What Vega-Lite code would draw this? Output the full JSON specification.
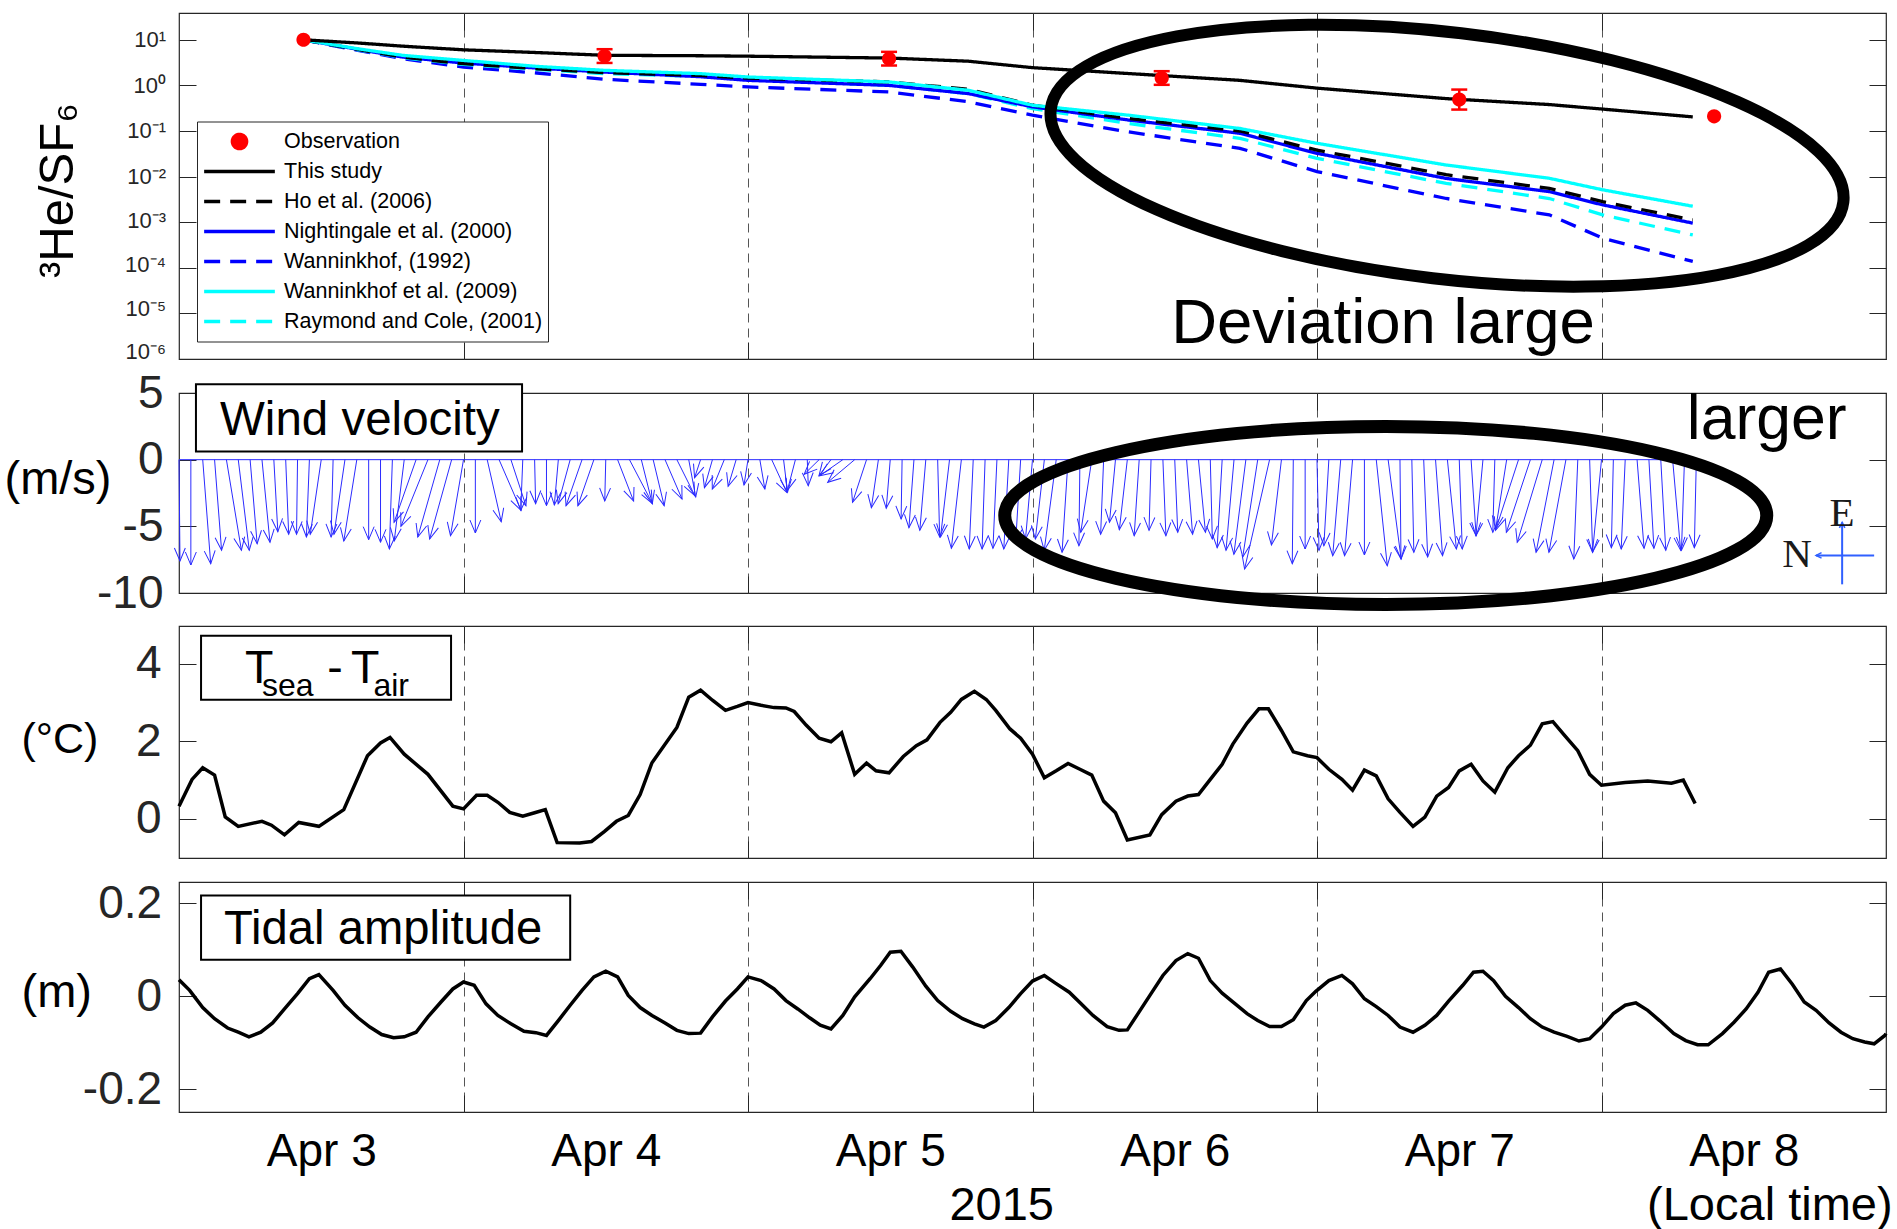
{
"$schema":"https://vega.github.io/schema/vega-lite/v6.json",
"background":"white",
"padding":{"left":3,"top":0,"right":4,"bottom":0},
"spacing":0,
"bounds":"flush",
"config":{
 "font":"Liberation Sans",
 "view":{"stroke":"#262626","strokeWidth":1.2},
 "axis":{"labelFont":"Liberation Sans","titleFont":"Liberation Sans","domain":false,"grid":false,"tickColor":"#262626","labelColor":"#262626","titleColor":"#000000","titleFontWeight":"normal","labelFlush":false,"labelOverlap":false,"tickWidth":1}
},
"datasets":{
 "models":[
  {"m":"Wanninkhof, (1992)","h":10.5,"v":10},{"m":"Wanninkhof, (1992)","h":15.1,"v":5.85},{"m":"Wanninkhof, (1992)","h":18.9,"v":3.85},{"m":"Wanninkhof, (1992)","h":24,"v":2.53},{"m":"Wanninkhof, (1992)","h":30.2,"v":1.87},{"m":"Wanninkhof, (1992)","h":35.9,"v":1.36},{"m":"Wanninkhof, (1992)","h":44,"v":1.057},{"m":"Wanninkhof, (1992)","h":48,"v":0.925},{"m":"Wanninkhof, (1992)","h":59.9,"v":0.719},{"m":"Wanninkhof, (1992)","h":66.6,"v":0.437},{"m":"Wanninkhof, (1992)","h":72,"v":0.222},{"m":"Wanninkhof, (1992)","h":80.1,"v":0.0955},{"m":"Wanninkhof, (1992)","h":89.5,"v":0.0417},{"m":"Wanninkhof, (1992)","h":96,"v":0.0129},{"m":"Wanninkhof, (1992)","h":106.9,"v":0.00331},{"m":"Wanninkhof, (1992)","h":115.6,"v":0.00145},{"m":"Wanninkhof, (1992)","h":120.1,"v":0.000447},{"m":"Wanninkhof, (1992)","h":127.7,"v":0.000138},
  {"m":"Raymond and Cole, (2001)","h":10.5,"v":10},{"m":"Raymond and Cole, (2001)","h":15.1,"v":6.03},{"m":"Raymond and Cole, (2001)","h":18.9,"v":4.05},{"m":"Raymond and Cole, (2001)","h":24,"v":2.88},{"m":"Raymond and Cole, (2001)","h":30.2,"v":2.24},{"m":"Raymond and Cole, (2001)","h":35.9,"v":1.81},{"m":"Raymond and Cole, (2001)","h":44,"v":1.585},{"m":"Raymond and Cole, (2001)","h":48,"v":1.36},{"m":"Raymond and Cole, (2001)","h":59.9,"v":1.0},{"m":"Raymond and Cole, (2001)","h":66.6,"v":0.661},{"m":"Raymond and Cole, (2001)","h":72,"v":0.309},{"m":"Raymond and Cole, (2001)","h":80.1,"v":0.146},{"m":"Raymond and Cole, (2001)","h":89.5,"v":0.0692},{"m":"Raymond and Cole, (2001)","h":96,"v":0.0251},{"m":"Raymond and Cole, (2001)","h":106.9,"v":0.00708},{"m":"Raymond and Cole, (2001)","h":115.6,"v":0.00331},{"m":"Raymond and Cole, (2001)","h":120.1,"v":0.00145},{"m":"Raymond and Cole, (2001)","h":127.7,"v":0.000525},
  {"m":"Nightingale et al. (2000)","h":10.5,"v":10},{"m":"Nightingale et al. (2000)","h":15.1,"v":6.17},{"m":"Nightingale et al. (2000)","h":18.9,"v":4.17},{"m":"Nightingale et al. (2000)","h":24,"v":3.09},{"m":"Nightingale et al. (2000)","h":30.2,"v":2.40},{"m":"Nightingale et al. (2000)","h":35.9,"v":1.96},{"m":"Nightingale et al. (2000)","h":44,"v":1.55},{"m":"Nightingale et al. (2000)","h":48,"v":1.29},{"m":"Nightingale et al. (2000)","h":59.9,"v":1.0},{"m":"Nightingale et al. (2000)","h":66.6,"v":0.661},{"m":"Nightingale et al. (2000)","h":72,"v":0.339},{"m":"Nightingale et al. (2000)","h":80.1,"v":0.174},{"m":"Nightingale et al. (2000)","h":89.5,"v":0.0891},{"m":"Nightingale et al. (2000)","h":96,"v":0.0324},{"m":"Nightingale et al. (2000)","h":106.9,"v":0.00912},{"m":"Nightingale et al. (2000)","h":115.6,"v":0.00468},{"m":"Nightingale et al. (2000)","h":120.1,"v":0.0024},{"m":"Nightingale et al. (2000)","h":127.7,"v":0.000955},
  {"m":"Ho et al. (2006)","h":10.5,"v":10},{"m":"Ho et al. (2006)","h":15.1,"v":6.17},{"m":"Ho et al. (2006)","h":18.9,"v":4.17},{"m":"Ho et al. (2006)","h":24,"v":2.99},{"m":"Ho et al. (2006)","h":30.2,"v":2.32},{"m":"Ho et al. (2006)","h":35.9,"v":1.90},{"m":"Ho et al. (2006)","h":44,"v":1.66},{"m":"Ho et al. (2006)","h":48,"v":1.445},{"m":"Ho et al. (2006)","h":59.9,"v":1.19},{"m":"Ho et al. (2006)","h":66.6,"v":0.822},{"m":"Ho et al. (2006)","h":72,"v":0.367},{"m":"Ho et al. (2006)","h":80.1,"v":0.188},{"m":"Ho et al. (2006)","h":89.5,"v":0.1},{"m":"Ho et al. (2006)","h":96,"v":0.038},{"m":"Ho et al. (2006)","h":106.9,"v":0.011},{"m":"Ho et al. (2006)","h":115.6,"v":0.0055},{"m":"Ho et al. (2006)","h":120.1,"v":0.00282},{"m":"Ho et al. (2006)","h":127.7,"v":0.00112},
  {"m":"Wanninkhof et al. (2009)","h":10.5,"v":10},{"m":"Wanninkhof et al. (2009)","h":15.1,"v":6.35},{"m":"Wanninkhof et al. (2009)","h":18.9,"v":4.55},{"m":"Wanninkhof et al. (2009)","h":24,"v":3.53},{"m":"Wanninkhof et al. (2009)","h":30.2,"v":2.61},{"m":"Wanninkhof et al. (2009)","h":35.9,"v":2.14},{"m":"Wanninkhof et al. (2009)","h":44,"v":1.81},{"m":"Wanninkhof et al. (2009)","h":48,"v":1.53},{"m":"Wanninkhof et al. (2009)","h":59.9,"v":1.19},{"m":"Wanninkhof et al. (2009)","h":66.6,"v":0.782},{"m":"Wanninkhof et al. (2009)","h":72,"v":0.367},{"m":"Wanninkhof et al. (2009)","h":80.1,"v":0.222},{"m":"Wanninkhof et al. (2009)","h":89.5,"v":0.1135},{"m":"Wanninkhof et al. (2009)","h":96,"v":0.0537},{"m":"Wanninkhof et al. (2009)","h":106.9,"v":0.01795},{"m":"Wanninkhof et al. (2009)","h":115.6,"v":0.00918},{"m":"Wanninkhof et al. (2009)","h":120.1,"v":0.00513},{"m":"Wanninkhof et al. (2009)","h":127.7,"v":0.00224},
  {"m":"This study","h":10.5,"v":10},{"m":"This study","h":15.1,"v":8.51},{"m":"This study","h":18.9,"v":7.24},{"m":"This study","h":24,"v":6.03},{"m":"This study","h":30.2,"v":5.25},{"m":"This study","h":35.9,"v":4.57},{"m":"This study","h":44,"v":4.47},{"m":"This study","h":48,"v":4.37},{"m":"This study","h":59.9,"v":3.98},{"m":"This study","h":66.6,"v":3.39},{"m":"This study","h":72,"v":2.45},{"m":"This study","h":80.1,"v":1.82},{"m":"This study","h":89.5,"v":1.29},{"m":"This study","h":96,"v":0.871},{"m":"This study","h":106.9,"v":0.513},{"m":"This study","h":115.6,"v":0.38},{"m":"This study","h":120.1,"v":0.302},{"m":"This study","h":127.7,"v":0.204}
 ],
 "obs":[{"m":"Observation","h":10.5,"v":10},{"m":"Observation","h":35.9,"v":4.4},{"m":"Observation","h":59.9,"v":3.85},{"m":"Observation","h":82.9,"v":1.45},{"m":"Observation","h":108.0,"v":0.49},{"m":"Observation","h":129.5,"v":0.21}],
 "err":[{"h":35.9,"lo":3.11,"hi":6.22},{"h":59.9,"lo":2.73,"hi":5.44},{"h":82.9,"lo":1.03,"hi":2.05},{"h":108.0,"lo":0.295,"hi":0.81}],
 "wind":[
  {"h":0,"h2":0.084,"v":-7.6,"a":-0.6},{"h":1,"h2":1,"v":-7.9,"a":0},{"h":2,"h2":2.675,"v":-7.8,"a":-4.4},{"h":3,"h2":3.591,"v":-6.8,"a":-4.4},{"h":4,"h2":5.265,"v":-6.8,"a":-9.4},{"h":5,"h2":5.928,"v":-6.8,"a":-6.9},{"h":6,"h2":6.591,"v":-6.3,"a":-4.8},{"h":7,"h2":7.675,"v":-6.2,"a":-5.5},{"h":8,"h2":8.337,"v":-5.4,"a":-3.2},{"h":9,"h2":9.253,"v":-5.6,"a":-2.3},
  {"h":10,"h2":9.916,"v":-5.6,"a":0.8},{"h":11,"h2":10.747,"v":-5.8,"a":2.2},{"h":12,"h2":11.072,"v":-5.6,"a":8.4},{"h":13,"h2":12.831,"v":-5.8,"a":1.5},{"h":14,"h2":13.072,"v":-5.6,"a":8.4},{"h":15,"h2":13.903,"v":-6.1,"a":9.1},{"h":16,"h2":16,"v":-6.0,"a":0},{"h":17,"h2":17,"v":-6.2,"a":0},{"h":18,"h2":17.747,"v":-6.7,"a":1.9},{"h":19,"h2":18.156,"v":-6.1,"a":7.0},
  {"h":20,"h2":18.144,"v":-4.7,"a":19.3},{"h":21,"h2":18.722,"v":-5.0,"a":22.0},{"h":22,"h2":20.144,"v":-5.8,"a":15.9},{"h":23,"h2":21.144,"v":-5.95,"a":15.5},{"h":24,"h2":22.903,"v":-5.7,"a":9.7},{"h":25,"h2":25,"v":-5.5,"a":0},{"h":26,"h2":27.181,"v":-4.65,"a":-12.7},{"h":27,"h2":28.856,"v":-3.8,"a":-23.5},{"h":28,"h2":29.265,"v":-3.45,"a":-18.1},{"h":29,"h2":28.831,"v":-3.8,"a":2.3},
  {"h":30,"h2":30.084,"v":-3.3,"a":-1.3},{"h":31,"h2":31,"v":-3.45,"a":0},{"h":32,"h2":31.663,"v":-3.4,"a":5.0},{"h":33,"h2":31.988,"v":-3.3,"a":15.3},{"h":34,"h2":32.65,"v":-3.45,"a":19.2},{"h":35,"h2":33.65,"v":-3.45,"a":19.2},{"h":36,"h2":35.916,"v":-3.1,"a":1.4},{"h":37,"h2":38.35,"v":-3.1,"a":-21.2},{"h":38,"h2":39.94,"v":-3.3,"a":-27.6},{"h":39,"h2":39.928,"v":-3.3,"a":-14.0},
  {"h":40,"h2":40.928,"v":-3.45,"a":-13.4},{"h":41,"h2":42.434,"v":-2.95,"a":-23.4},{"h":42,"h2":43.518,"v":-2.7,"a":-26.6},{"h":43,"h2":43.59,"v":-2.8,"a":-10.6},{"h":44,"h2":43.494,"v":-1.35,"a":18.4},{"h":45,"h2":44.325,"v":-2.1,"a":15.9},{"h":46,"h2":44.988,"v":-2.2,"a":22.3},{"h":47,"h2":46.325,"v":-2.0,"a":16.7},{"h":48,"h2":47.663,"v":-1.9,"a":9.0},{"h":49,"h2":49.422,"v":-2.2,"a":-9.7},
  {"h":50,"h2":51.265,"v":-2.45,"a":-24.6},{"h":51,"h2":51.337,"v":-2.45,"a":-7.0},{"h":52,"h2":51.325,"v":-2.3,"a":14.6},{"h":53,"h2":53.084,"v":-1.95,"a":-2.2},{"h":54,"h2":52.735,"v":-1.1,"a":45.6},{"h":55,"h2":53.988,"v":-1.2,"a":36.9},{"h":56,"h2":54.06,"v":-1.2,"a":55.2},{"h":57,"h2":54.722,"v":-1.7,"a":50.0},{"h":58,"h2":56.819,"v":-3.2,"a":18.2},{"h":59,"h2":58.409,"v":-3.6,"a":8.3},
  {"h":60,"h2":59.663,"v":-3.65,"a":4.7},{"h":61,"h2":60.916,"v":-4.45,"a":1.0},{"h":62,"h2":61.578,"v":-5.1,"a":4.2},{"h":63,"h2":62.494,"v":-5.3,"a":4.9},{"h":64,"h2":64.169,"v":-5.8,"a":-1.5},{"h":65,"h2":64.241,"v":-5.8,"a":6.6},{"h":66,"h2":65.156,"v":-6.65,"a":6.4},{"h":67,"h2":66.663,"v":-6.7,"a":2.6},{"h":68,"h2":67.747,"v":-6.7,"a":1.9},{"h":69,"h2":68.663,"v":-6.65,"a":2.6},
  {"h":70,"h2":69.578,"v":-6.7,"a":3.2},{"h":71,"h2":70.578,"v":-6.2,"a":3.5},{"h":72,"h2":71.409,"v":-5.95,"a":5.0},{"h":73,"h2":72.241,"v":-5.95,"a":6.5},{"h":74,"h2":72.988,"v":-6.8,"a":7.5},{"h":75,"h2":74.494,"v":-6.95,"a":3.7},{"h":76,"h2":75.916,"v":-6.45,"a":0.7},{"h":77,"h2":76.072,"v":-5.45,"a":8.6},{"h":78,"h2":77.747,"v":-5.6,"a":2.3},{"h":79,"h2":78.494,"v":-4.7,"a":5.5},
  {"h":80,"h2":79.325,"v":-5.25,"a":6.5},{"h":81,"h2":80.578,"v":-5.7,"a":3.8},{"h":82,"h2":81.831,"v":-5.3,"a":1.6},{"h":83,"h2":83.253,"v":-5.7,"a":-2.3},{"h":84,"h2":84.253,"v":-5.45,"a":-2.4},{"h":85,"h2":85.506,"v":-5.6,"a":-4.6},{"h":86,"h2":86.591,"v":-5.45,"a":-5.5},{"h":87,"h2":87.169,"v":-5.95,"a":-1.4},{"h":88,"h2":87.578,"v":-6.6,"a":3.3},{"h":89,"h2":88.325,"v":-6.8,"a":5.0},
  {"h":90,"h2":88.988,"v":-7.1,"a":7.2},{"h":91,"h2":89.735,"v":-7.3,"a":8.8},{"h":92,"h2":89.891,"v":-8.2,"a":12.9},{"h":93,"h2":92.156,"v":-6.4,"a":6.7},{"h":94,"h2":93.916,"v":-7.8,"a":0.6},{"h":95,"h2":95,"v":-6.7,"a":0},{"h":96,"h2":96.169,"v":-6.8,"a":-1.3},{"h":97,"h2":96.578,"v":-6.45,"a":3.3},{"h":98,"h2":97.325,"v":-7.2,"a":4.8},{"h":99,"h2":98.325,"v":-7.2,"a":4.8},
  {"h":100,"h2":100,"v":-7.15,"a":0},{"h":101,"h2":101.928,"v":-7.95,"a":-5.9},{"h":102,"h2":103.097,"v":-7.45,"a":-7.5},{"h":103,"h2":103.084,"v":-7.45,"a":-0.6},{"h":104,"h2":104.169,"v":-6.95,"a":-1.2},{"h":105,"h2":105.337,"v":-7.3,"a":-2.4},{"h":106,"h2":106.591,"v":-7.2,"a":-4.2},{"h":107,"h2":107.759,"v":-6.7,"a":-5.8},{"h":108,"h2":108.253,"v":-6.7,"a":-1.9},{"h":109,"h2":109.422,"v":-5.7,"a":-3.8},
  {"h":110,"h2":109.409,"v":-5.7,"a":5.3},{"h":111,"h2":110.831,"v":-5.45,"a":1.6},{"h":112,"h2":111.072,"v":-5.2,"a":9.0},{"h":113,"h2":111.06,"v":-5.3,"a":18.0},{"h":114,"h2":111.975,"v":-5.45,"a":18.3},{"h":115,"h2":112.891,"v":-6.2,"a":16.8},{"h":116,"h2":114.482,"v":-6.95,"a":11.0},{"h":117,"h2":115.566,"v":-6.95,"a":10.4},{"h":118,"h2":117.663,"v":-7.45,"a":2.3},{"h":119,"h2":119.253,"v":-6.95,"a":-1.9},
  {"h":120,"h2":119.241,"v":-6.95,"a":5.5},{"h":121,"h2":120.831,"v":-6.6,"a":1.3},{"h":122,"h2":121.663,"v":-6.7,"a":2.6},{"h":123,"h2":123.591,"v":-6.65,"a":-4.5},{"h":124,"h2":124.422,"v":-6.65,"a":-3.2},{"h":125,"h2":125.422,"v":-6.8,"a":-3.2},{"h":126,"h2":126.675,"v":-6.8,"a":-5.0},{"h":127,"h2":126.747,"v":-6.8,"a":1.9},{"h":128,"h2":127.831,"v":-6.6,"a":1.3}
 ],
 "tsea":[
  {"h":0,"v":0.33},{"h":1.1,"v":1.02},{"h":2.0,"v":1.32},{"h":3.0,"v":1.13},{"h":3.9,"v":0.05},{"h":5.0,"v":-0.19},{"h":7.0,"v":-0.06},{"h":7.8,"v":-0.16},{"h":8.9,"v":-0.41},{"h":10.1,"v":-0.09},{"h":11.8,"v":-0.19},{"h":13.9,"v":0.24},{"h":15.9,"v":1.63},{"h":17.0,"v":1.96},{"h":17.8,"v":2.1},{"h":19.0,"v":1.67},{"h":21.0,"v":1.15},{"h":23.1,"v":0.33},{"h":24.0,"v":0.26},{"h":25.1,"v":0.61},{"h":26.0,"v":0.61},{"h":26.9,"v":0.43},{"h":27.9,"v":0.17},{"h":29.0,"v":0.07},{"h":30.0,"v":0.16},{"h":30.9,"v":0.24},{"h":31.9,"v":-0.61},{"h":33.8,"v":-0.62},{"h":34.8,"v":-0.58},{"h":35.9,"v":-0.32},{"h":36.9,"v":-0.06},{"h":37.9,"v":0.09},{"h":38.9,"v":0.63},{"h":39.9,"v":1.45},{"h":42.0,"v":2.36},{"h":43.0,"v":3.14},{"h":44.0,"v":3.32},{"h":45.0,"v":3.06},{"h":46.1,"v":2.8},{"h":47.1,"v":2.9},{"h":48.0,"v":3.0},{"h":49.1,"v":2.93},{"h":50.2,"v":2.87},{"h":51.2,"v":2.86},{"h":51.9,"v":2.77},{"h":52.9,"v":2.42},{"h":54.0,"v":2.08},{"h":55.0,"v":1.99},{"h":55.9,"v":2.22},{"h":57.0,"v":1.15},{"h":58.0,"v":1.44},{"h":58.8,"v":1.24},{"h":59.9,"v":1.19},{"h":61.1,"v":1.61},{"h":62.2,"v":1.89},{"h":63.1,"v":2.04},{"h":64.2,"v":2.49},{"h":65.1,"v":2.75},{"h":66.0,"v":3.08},{"h":67.1,"v":3.29},{"h":68.1,"v":3.08},{"h":68.9,"v":2.8},{"h":70.1,"v":2.32},{"h":71.0,"v":2.08},{"h":72.0,"v":1.67},{"h":73.0,"v":1.06},{"h":74.0,"v":1.24},{"h":75.0,"v":1.43},{"h":76.0,"v":1.28},{"h":77.0,"v":1.13},{"h":78.0,"v":0.46},{"h":79.0,"v":0.16},{"h":80.0,"v":-0.54},{"h":81.9,"v":-0.41},{"h":82.9,"v":0.11},{"h":84.1,"v":0.46},{"h":85.1,"v":0.59},{"h":86.0,"v":0.63},{"h":87.0,"v":1.02},{"h":88.0,"v":1.41},{"h":88.9,"v":1.93},{"h":90.1,"v":2.47},{"h":91.1,"v":2.84},{"h":91.9,"v":2.84},{"h":93.0,"v":2.28},{"h":94.0,"v":1.73},{"h":95.2,"v":1.63},{"h":96.0,"v":1.58},{"h":97.0,"v":1.28},{"h":98.1,"v":1.02},{"h":99.0,"v":0.74},{"h":100.0,"v":1.26},{"h":101.0,"v":1.11},{"h":102.0,"v":0.52},{"h":103.0,"v":0.17},{"h":104.1,"v":-0.19},{"h":105.1,"v":0.05},{"h":106.1,"v":0.59},{"h":107.1,"v":0.81},{"h":108.0,"v":1.24},{"h":109.0,"v":1.41},{"h":110.0,"v":0.98},{"h":111.0,"v":0.69},{"h":112.1,"v":1.32},{"h":113.0,"v":1.63},{"h":114.0,"v":1.9},{"h":115.0,"v":2.45},{"h":115.9,"v":2.51},{"h":116.9,"v":2.15},{"h":118.0,"v":1.76},{"h":119.0,"v":1.15},{"h":120.0,"v":0.87},{"h":122.0,"v":0.94},{"h":123.9,"v":0.98},{"h":125.9,"v":0.92},{"h":126.9,"v":1.0},{"h":127.9,"v":0.4}
 ],
 "tide":[
  {"h":0,"v":0.036},{"h":0.9,"v":0.013},{"h":2.0,"v":-0.024},{"h":3.0,"v":-0.048},{"h":4.1,"v":-0.068},{"h":5.0,"v":-0.077},{"h":5.9,"v":-0.087},{"h":6.9,"v":-0.077},{"h":7.9,"v":-0.057},{"h":8.9,"v":-0.027},{"h":10.0,"v":0.006},{"h":11.0,"v":0.038},{"h":11.8,"v":0.047},{"h":13.0,"v":0.013},{"h":14.0,"v":-0.019},{"h":15.1,"v":-0.046},{"h":16.1,"v":-0.066},{"h":17.1,"v":-0.082},{"h":18.1,"v":-0.089},{"h":19.0,"v":-0.087},{"h":20.0,"v":-0.077},{"h":21.0,"v":-0.044},{"h":22.1,"v":-0.012},{"h":23.1,"v":0.016},{"h":24.0,"v":0.031},{"h":24.9,"v":0.024},{"h":25.9,"v":-0.016},{"h":26.9,"v":-0.041},{"h":28.0,"v":-0.059},{"h":29.1,"v":-0.075},{"h":30.1,"v":-0.078},{"h":31.0,"v":-0.084},{"h":32.0,"v":-0.052},{"h":33.0,"v":-0.019},{"h":34.0,"v":0.013},{"h":35.0,"v":0.042},{"h":36.0,"v":0.054},{"h":37.0,"v":0.042},{"h":37.9,"v":0.002},{"h":38.9,"v":-0.024},{"h":39.9,"v":-0.041},{"h":41.0,"v":-0.057},{"h":42.0,"v":-0.073},{"h":43.0,"v":-0.08},{"h":44.0,"v":-0.079},{"h":45.0,"v":-0.044},{"h":46.1,"v":-0.01},{"h":47.1,"v":0.016},{"h":48.0,"v":0.042},{"h":49.1,"v":0.034},{"h":50.2,"v":0.016},{"h":51.2,"v":-0.009},{"h":52.2,"v":-0.027},{"h":53.2,"v":-0.046},{"h":54.1,"v":-0.062},{"h":55.0,"v":-0.07},{"h":56.0,"v":-0.041},{"h":57.0,"v":-0.001},{"h":58.3,"v":0.038},{"h":59.2,"v":0.067},{"h":60.0,"v":0.095},{"h":60.9,"v":0.097},{"h":61.9,"v":0.063},{"h":63.0,"v":0.022},{"h":64.0,"v":-0.009},{"h":65.1,"v":-0.032},{"h":66.1,"v":-0.048},{"h":67.1,"v":-0.059},{"h":67.9,"v":-0.066},{"h":68.9,"v":-0.052},{"h":70.0,"v":-0.024},{"h":71.0,"v":0.006},{"h":72.0,"v":0.033},{"h":73.0,"v":0.045},{"h":73.9,"v":0.029},{"h":75.1,"v":0.009},{"h":76.1,"v":-0.016},{"h":77.1,"v":-0.041},{"h":78.3,"v":-0.065},{"h":79.3,"v":-0.073},{"h":80.0,"v":-0.072},{"h":80.9,"v":-0.037},{"h":82.0,"v":0.006},{"h":83.0,"v":0.045},{"h":84.1,"v":0.077},{"h":85.1,"v":0.092},{"h":86.0,"v":0.082},{"h":87.0,"v":0.034},{"h":88.0,"v":0.007},{"h":89.0,"v":-0.014},{"h":90.1,"v":-0.037},{"h":91.0,"v":-0.052},{"h":92.0,"v":-0.065},{"h":93.0,"v":-0.065},{"h":94.0,"v":-0.05},{"h":95.1,"v":-0.009},{"h":95.9,"v":0.011},{"h":97.0,"v":0.034},{"h":98.1,"v":0.045},{"h":99.0,"v":0.027},{"h":100.0,"v":-0.005},{"h":101.0,"v":-0.022},{"h":102.0,"v":-0.041},{"h":103.0,"v":-0.066},{"h":104.1,"v":-0.077},{"h":105.1,"v":-0.062},{"h":106.1,"v":-0.041},{"h":107.1,"v":-0.01},{"h":108.3,"v":0.024},{"h":109.2,"v":0.052},{"h":110.0,"v":0.054},{"h":110.9,"v":0.034},{"h":111.9,"v":0.0},{"h":113.0,"v":-0.024},{"h":114.0,"v":-0.048},{"h":115.0,"v":-0.066},{"h":116.0,"v":-0.077},{"h":117.1,"v":-0.086},{"h":118.1,"v":-0.096},{"h":119.0,"v":-0.091},{"h":120.0,"v":-0.066},{"h":121.0,"v":-0.037},{"h":122.0,"v":-0.019},{"h":122.9,"v":-0.014},{"h":123.9,"v":-0.03},{"h":124.9,"v":-0.052},{"h":126.1,"v":-0.08},{"h":127.1,"v":-0.095},{"h":128.1,"v":-0.104},{"h":129.0,"v":-0.104},{"h":130.2,"v":-0.08},{"h":131.2,"v":-0.055},{"h":132.2,"v":-0.027},{"h":133.2,"v":0.009},{"h":134.1,"v":0.052},{"h":135.1,"v":0.059},{"h":136.1,"v":0.026},{"h":137.1,"v":-0.012},{"h":138.1,"v":-0.03},{"h":139.2,"v":-0.057},{"h":140.2,"v":-0.077},{"h":141.2,"v":-0.091},{"h":142.2,"v":-0.098},{"h":143.0,"v":-0.102},{"h":143.9,"v":-0.084},{"h":144,"v":-0.08}
 ]
},
"vconcat":[
 {
  "width":1707,"height":346,
  "resolve":{"axis":{"x":"independent","y":"independent"}},
  "layer":[
   {"data":{"name":"models"},
    "mark":{"type":"line","strokeWidth":3.3},
    "encoding":{
     "x":{"field":"h","type":"quantitative","scale":{"domain":[0,144],"nice":false,"zero":false},
      "axis":{"orient":"bottom","values":[12,24,36,48,60,72,84,96,108,120,132],"grid":true,"gridDash":[9,6],"gridColor":"#555555","gridWidth":1,"gridOpacity":{"condition":{"test":"datum.value % 24 === 0","value":1},"value":0},"tickSize":-17,"tickOpacity":{"condition":{"test":"datum.value % 24 === 0","value":1},"value":0},"labels":false,"title":null}},
     "y":{"field":"v","type":"quantitative","scale":{"type":"log","domain":[0.000001,38.7],"nice":false},
      "axis":{"orient":"left","values":[0.000001,0.00001,0.0001,0.001,0.01,0.1,1,10],"labelExpr":"'10' + (round(log(datum.value)/LN10) < 0 ? '⁻' : '') + substring('⁰¹²³⁴⁵⁶⁷⁸⁹', abs(round(log(datum.value)/LN10)), abs(round(log(datum.value)/LN10)) + 1)","labelFontSize":22,"labelPadding":30.5,"tickSize":-17,
       "labelOffset":{"condition":[{"test":"datum.value < 0.000002","value":-8},{"test":"datum.value < 0.00002","value":-5},{"test":"datum.value < 0.0002","value":-3.5},{"test":"datum.value < 0.002","value":-2}],"value":0},
       "title":"³He/SF₆","titleFontSize":49,"titleAngle":-90,"titleX":-107,"titleY":177,"titleAlign":"center","titleBaseline":"alphabetic"}},
     "color":{"field":"m","type":"nominal","scale":{"domain":["Observation","This study","Ho et al. (2006)","Nightingale et al. (2000)","Wanninkhof, (1992)","Wanninkhof et al. (2009)","Raymond and Cole, (2001)"],"range":["#ff0000","#000000","#000000","#0000ff","#0000ff","#00ffff","#00ffff"]},
      "legend":{"orient":"none","legendX":18,"legendY":108.5,"title":null,"symbolSize":5000,"symbolStrokeWidth":3.5,"clipHeight":30,"padding":5,"labelOffset":7,"labelFontSize":21.5,"labelFont":"Liberation Sans","labelColor":"#000000","labelLimit":400,"rowPadding":0,"strokeColor":"#262626","fillColor":"#ffffff"}},
     "strokeDash":{"field":"m","type":"nominal","scale":{"domain":["Observation","This study","Ho et al. (2006)","Nightingale et al. (2000)","Wanninkhof, (1992)","Wanninkhof et al. (2009)","Raymond and Cole, (2001)"],"range":[[1,0],[1,0],[16,10],[1,0],[16,10],[1,0],[16,10]]},
      "legend":{"orient":"none","legendX":18,"legendY":108.5,"title":null,"symbolSize":5000,"symbolStrokeWidth":3.5,"clipHeight":30,"padding":5,"labelOffset":7,"labelFontSize":21.5,"labelFont":"Liberation Sans","labelColor":"#000000","labelLimit":400,"rowPadding":0,"strokeColor":"#262626","fillColor":"#ffffff"}}
    }},
   {"data":{"name":"err"},"mark":{"type":"rule","color":"#ff0000","strokeWidth":2.5},
    "encoding":{"x":{"field":"h","type":"quantitative","axis":null},"y":{"field":"lo","type":"quantitative","axis":null},"y2":{"field":"hi"}}},
   {"data":{"name":"err"},"mark":{"type":"tick","orient":"horizontal","color":"#ff0000","size":16,"thickness":2.5,"opacity":1},
    "encoding":{"x":{"field":"h","type":"quantitative","axis":null},"y":{"field":"lo","type":"quantitative","axis":null}}},
   {"data":{"name":"err"},"mark":{"type":"tick","orient":"horizontal","color":"#ff0000","size":16,"thickness":2.5,"opacity":1},
    "encoding":{"x":{"field":"h","type":"quantitative","axis":null},"y":{"field":"hi","type":"quantitative","axis":null}}},
   {"data":{"name":"obs"},"mark":{"type":"point","filled":true,"size":5000,"opacity":1},
    "encoding":{"x":{"field":"h","type":"quantitative","axis":null},"y":{"field":"v","type":"quantitative","axis":null},
     "color":{"field":"m","type":"nominal"},
     "shape":{"field":"m","type":"nominal","scale":{"domain":["Observation","This study","Ho et al. (2006)","Nightingale et al. (2000)","Wanninkhof, (1992)","Wanninkhof et al. (2009)","Raymond and Cole, (2001)"],"range":["M0.2,0C0.2,0.1105 0.1105,0.2 0,0.2C-0.1105,0.2 -0.2,0.1105 -0.2,0C-0.2,-0.1105 -0.1105,-0.2 0,-0.2C0.1105,-0.2 0.2,-0.1105 0.2,0Z","stroke","stroke","stroke","stroke","stroke","stroke"]},
      "legend":{"orient":"none","legendX":18,"legendY":108.5,"title":null,"symbolSize":5000,"symbolStrokeWidth":3.5,"clipHeight":30,"padding":5,"labelOffset":7,"labelFontSize":21.5,"labelFont":"Liberation Sans","labelColor":"#000000","labelLimit":400,"rowPadding":0,"strokeColor":"#262626","fillColor":"#ffffff"}}}},
   {"data":{"values":[{}]},"mark":{"type":"point","shape":"M1,0C1,0.08195 0.89463,0.16055 0.70711,0.2185C0.51959,0.27645 0.2652,0.309 0,0.309C-0.2652,0.309 -0.51959,0.27645 -0.70711,0.2185C-0.89463,0.16055 -1,0.08195 -1,0C-1,-0.08195 -0.89463,-0.16055 -0.70711,-0.2185C-0.51959,-0.27645 -0.2652,-0.309 0,-0.309C0.2652,-0.309 0.51959,-0.27645 0.70711,-0.2185C0.89463,-0.16055 1,-0.08195 1,0Z","size":636804,"filled":false,"stroke":"#000000","strokeWidth":12,"angle":6.66,"opacity":1},
    "encoding":{"x":{"datum":106.97,"axis":null},"y":{"datum":0.0287,"axis":null}}},
   {"data":{"values":[{}]},"mark":{"type":"text","text":"Deviation large","font":"Liberation Sans","fontSize":63.5,"align":"left","baseline":"alphabetic","color":"#000000"},
    "encoding":{"x":{"datum":83.7,"axis":{"orient":"top","values":[24,48,72,96,120],"tickSize":-17,"labels":false,"title":null,"grid":false}},
     "y":{"datum":0.00000228,"axis":{"orient":"right","values":[0.000001,0.00001,0.0001,0.001,0.01,0.1,1,10],"tickSize":-17,"labels":false,"title":null,"grid":false}}}}
  ]
 },
 {"width":1707,"height":33.6,"data":{"values":[]},"mark":{"type":"point","opacity":0},"encoding":{},"view":{"stroke":null}},
 {
  "width":1707,"height":200,
  "resolve":{"axis":{"x":"independent","y":"independent"}},
  "layer":[
   {"data":{"values":[{}]},"mark":{"type":"rule","color":"#2b2bff","strokeWidth":1},
    "encoding":{"x":{"datum":0,"axis":null},"x2":{"datum":128},"y":{"datum":0,"axis":null}}},
   {"data":{"name":"wind"},"mark":{"type":"rule","color":"#2b2bff","strokeWidth":1},
    "encoding":{
     "x":{"field":"h2","type":"quantitative","scale":{"domain":[0,144],"nice":false,"zero":false},
      "axis":{"orient":"bottom","values":[12,24,36,48,60,72,84,96,108,120,132],"grid":true,"gridDash":[9,6],"gridColor":"#555555","gridWidth":1,"gridOpacity":{"condition":{"test":"datum.value % 24 === 0","value":1},"value":0},"tickSize":-17,"tickOpacity":{"condition":{"test":"datum.value % 24 === 0","value":1},"value":0},"labels":false,"title":null}},
     "x2":{"field":"h"},
     "y":{"field":"v","type":"quantitative","scale":{"domain":[-10,5],"nice":false,"zero":false},
      "axis":{"orient":"left","values":[-10,-5,0,5],"labelExpr":"(datum.value < 0 ? '-' : '') + abs(datum.value)","labelFontSize":46,"labelPadding":33,"tickSize":-17,"title":"(m/s)","titleAngle":0,"titleAlign":"left","titleBaseline":"alphabetic","titleX":-175,"titleY":100.4,"titleFontSize":47}},
     "y2":{"datum":0}}},
   {"data":{"name":"wind"},"mark":{"type":"point","shape":"M-0.42,-1L0,0L0.42,-1","size":676,"filled":false,"stroke":"#2b2bff","strokeWidth":1,"opacity":1},
    "encoding":{"x":{"field":"h2","type":"quantitative","axis":null},"y":{"field":"v","type":"quantitative","axis":null},"angle":{"field":"a","type":"quantitative","scale":null}}},
   {"data":{"values":[{}]},"mark":{"type":"rect","fill":"#ffffff","stroke":"#000000","strokeWidth":2},
    "encoding":{"x":{"datum":1.43,"axis":null},"x2":{"datum":28.94},"y":{"datum":5.65,"axis":null},"y2":{"datum":0.62}}},
   {"data":{"values":[{}]},"mark":{"type":"text","text":"Wind velocity","font":"Liberation Sans","fontSize":47.5,"align":"left","baseline":"alphabetic","color":"#000000"},
    "encoding":{"x":{"datum":3.46,"axis":null},"y":{"datum":1.85,"axis":null}}},
   {"data":{"values":[{}]},"mark":{"type":"point","shape":"M1,0C1,0.129 0.5523,0.2336 0,0.2336C-0.5523,0.2336 -1,0.129 -1,0C-1,-0.129 -0.5523,-0.2336 0,-0.2336C0.5523,-0.2336 1,-0.129 1,0Z","size":580644,"filled":false,"stroke":"#000000","strokeWidth":13,"opacity":1},
    "encoding":{"x":{"datum":101.8,"axis":null},"y":{"datum":-4.18,"axis":null}}},
   {"data":{"values":[{}]},"mark":{"type":"text","text":"larger","font":"Liberation Sans","fontSize":62.5,"align":"left","baseline":"alphabetic","color":"#000000"},
    "encoding":{"x":{"datum":127.2,"axis":{"orient":"top","values":[24,48,72,96,120],"tickSize":-17,"labels":false,"title":null,"grid":false}},
     "y":{"datum":1.55,"axis":{"orient":"right","values":[-10,-5,0,5],"tickSize":-17,"labels":false,"title":null,"grid":false}}}},
   {"data":{"values":[{}]},"mark":{"type":"rule","color":"#3060ff","strokeWidth":2},
    "encoding":{"x":{"datum":138.1,"axis":null},"x2":{"datum":143.0},"y":{"datum":-7.18,"axis":null}}},
   {"data":{"values":[{}]},"mark":{"type":"rule","color":"#3060ff","strokeWidth":2},
    "encoding":{"x":{"datum":140.3,"axis":null},"y":{"datum":-4.7,"axis":null},"y2":{"datum":-9.35}}},
   {"data":{"values":[{}]},"mark":{"type":"point","shape":"M-0.5,-1L0,0L0.5,-1","size":120,"filled":false,"stroke":"#3060ff","strokeWidth":1.5,"angle":90,"opacity":1},
    "encoding":{"x":{"datum":138.1,"axis":null},"y":{"datum":-7.18,"axis":null}}},
   {"data":{"values":[{}]},"mark":{"type":"point","shape":"M-0.5,-1L0,0L0.5,-1","size":120,"filled":false,"stroke":"#3060ff","strokeWidth":1.5,"angle":180,"opacity":1},
    "encoding":{"x":{"datum":140.3,"axis":null},"y":{"datum":-4.7,"axis":null}}},
   {"data":{"values":[{}]},"mark":{"type":"text","text":"N","font":"Liberation Serif","fontSize":41,"align":"center","baseline":"alphabetic","color":"#1a1a1a"},
    "encoding":{"x":{"datum":136.5,"axis":null},"y":{"datum":-8.08,"axis":null}}},
   {"data":{"values":[{}]},"mark":{"type":"text","text":"E","font":"Liberation Serif","fontSize":41,"align":"center","baseline":"alphabetic","color":"#1a1a1a"},
    "encoding":{"x":{"datum":140.3,"axis":null},"y":{"datum":-5.0,"axis":null}}}
  ]
 },
 {"width":1707,"height":32.7,"data":{"values":[]},"mark":{"type":"point","opacity":0},"encoding":{},"view":{"stroke":null}},
 {
  "width":1707,"height":232,
  "resolve":{"axis":{"x":"independent","y":"independent"}},
  "layer":[
   {"data":{"name":"tsea"},"mark":{"type":"line","color":"#000000","strokeWidth":3.5},
    "encoding":{
     "x":{"field":"h","type":"quantitative","scale":{"domain":[0,144],"nice":false,"zero":false},
      "axis":{"orient":"bottom","values":[12,24,36,48,60,72,84,96,108,120,132],"grid":true,"gridDash":[9,6],"gridColor":"#555555","gridWidth":1,"gridOpacity":{"condition":{"test":"datum.value % 24 === 0","value":1},"value":0},"tickSize":-17,"tickOpacity":{"condition":{"test":"datum.value % 24 === 0","value":1},"value":0},"labels":false,"title":null}},
     "y":{"field":"v","type":"quantitative","scale":{"domain":[-1.006,4.973],"nice":false,"zero":false},
      "axis":{"orient":"left","values":[0,2,4],"labelExpr":"(datum.value < 0 ? '-' : '') + abs(datum.value)","labelFontSize":46,"labelPadding":35,"tickSize":-17,"title":"(°C)","titleAngle":0,"titleAlign":"left","titleBaseline":"alphabetic","titleX":-158,"titleY":126.7,"titleFontSize":43}}}},
   {"data":{"values":[{}]},"mark":{"type":"rect","fill":"#ffffff","stroke":"#000000","strokeWidth":2},
    "encoding":{"x":{"datum":1.86,"axis":null},"x2":{"datum":22.95},"y":{"datum":4.72,"axis":null},"y2":{"datum":3.07}}},
   {"data":{"values":[{}]},"mark":{"type":"text","text":"T","font":"Liberation Sans","fontSize":46.5,"align":"left","baseline":"alphabetic","color":"#000000"},
    "encoding":{"x":{"datum":5.57,"axis":null},"y":{"datum":3.51,"axis":null}}},
   {"data":{"values":[{}]},"mark":{"type":"text","text":"sea","font":"Liberation Sans","fontSize":32,"align":"left","baseline":"alphabetic","color":"#000000"},
    "encoding":{"x":{"datum":7.0,"axis":null},"y":{"datum":3.17,"axis":null}}},
   {"data":{"values":[{}]},"mark":{"type":"text","text":"-","font":"Liberation Sans","fontSize":46.5,"align":"left","baseline":"alphabetic","color":"#000000"},
    "encoding":{"x":{"datum":12.5,"axis":null},"y":{"datum":3.51,"axis":null}}},
   {"data":{"values":[{}]},"mark":{"type":"text","text":"T","font":"Liberation Sans","fontSize":46.5,"align":"left","baseline":"alphabetic","color":"#000000"},
    "encoding":{"x":{"datum":14.5,"axis":null},"y":{"datum":3.51,"axis":null}}},
   {"data":{"values":[{}]},"mark":{"type":"text","text":"air","font":"Liberation Sans","fontSize":32,"align":"left","baseline":"alphabetic","color":"#000000"},
    "encoding":{"x":{"datum":16.4,"axis":{"orient":"top","values":[24,48,72,96,120],"tickSize":-17,"labels":false,"title":null,"grid":false}},
     "y":{"datum":3.17,"axis":{"orient":"right","values":[0,2,4],"tickSize":-17,"labels":false,"title":null,"grid":false}}}}
  ]
 },
 {"width":1707,"height":23.3,"data":{"values":[]},"mark":{"type":"point","opacity":0},"encoding":{},"view":{"stroke":null}},
 {
  "width":1707,"height":230,
  "resolve":{"axis":{"x":"independent","y":"independent"}},
  "layer":[
   {"data":{"name":"tide"},"mark":{"type":"line","color":"#000000","strokeWidth":3.5},
    "encoding":{
     "x":{"field":"h","type":"quantitative","scale":{"domain":[0,144],"nice":false,"zero":false},
      "axis":{"orient":"bottom","values":[12,24,36,48,60,72,84,96,108,120,132],"grid":true,"gridDash":[9,6],"gridColor":"#555555","gridWidth":1,"gridOpacity":{"condition":{"test":"datum.value % 24 === 0","value":1},"value":0},"tickSize":-17,"tickOpacity":{"condition":{"test":"datum.value % 24 === 0","value":1},"value":0},"labels":true,"labelExpr":"datum.value % 24 === 12 ? 'Apr ' + (3 + floor(datum.value / 24)) : ''","labelFontSize":46,"labelColor":"#000000","labelBaseline":"alphabetic","labelPadding":70.4,"title":null}},
     "y":{"field":"v","type":"quantitative","scale":{"domain":[-0.2486,0.246],"nice":false,"zero":false},
      "axis":{"orient":"left","values":[-0.2,0,0.2],"labelExpr":"(datum.value < 0 ? '-' : '') + abs(datum.value)","labelFontSize":46,"labelPadding":34.4,"tickSize":-17,"title":"(m)","titleAngle":0,"titleAlign":"left","titleBaseline":"alphabetic","titleX":-158,"titleY":124.7,"titleFontSize":47}}}},
   {"data":{"values":[{}]},"mark":{"type":"rect","fill":"#ffffff","stroke":"#000000","strokeWidth":2},
    "encoding":{"x":{"datum":1.86,"axis":null},"x2":{"datum":33.0},"y":{"datum":0.217,"axis":null},"y2":{"datum":0.079}}},
   {"data":{"values":[{}]},"mark":{"type":"text","text":"Tidal amplitude","font":"Liberation Sans","fontSize":47.2,"align":"left","baseline":"alphabetic","color":"#000000"},
    "encoding":{"x":{"datum":3.8,"axis":{"orient":"top","values":[24,48,72,96,120],"tickSize":-17,"labels":false,"title":null,"grid":false}},
     "y":{"datum":0.113,"axis":{"orient":"right","values":[-0.2,0,0.2],"tickSize":-17,"labels":false,"title":null,"grid":false}}}},
   {"data":{"values":[{}]},"mark":{"type":"text","text":"2015","font":"Liberation Sans","fontSize":47,"align":"center","baseline":"alphabetic","color":"#000000"},
    "encoding":{"x":{"datum":69.4,"axis":null},"y":{"datum":-0.48,"axis":null}}},
   {"data":{"values":[{}]},"mark":{"type":"text","text":"(Local time)","font":"Liberation Sans","fontSize":47,"align":"center","baseline":"alphabetic","color":"#000000"},
    "encoding":{"x":{"datum":134.2,"axis":null},"y":{"datum":-0.48,"axis":null}}}
  ]
 }
]
}
